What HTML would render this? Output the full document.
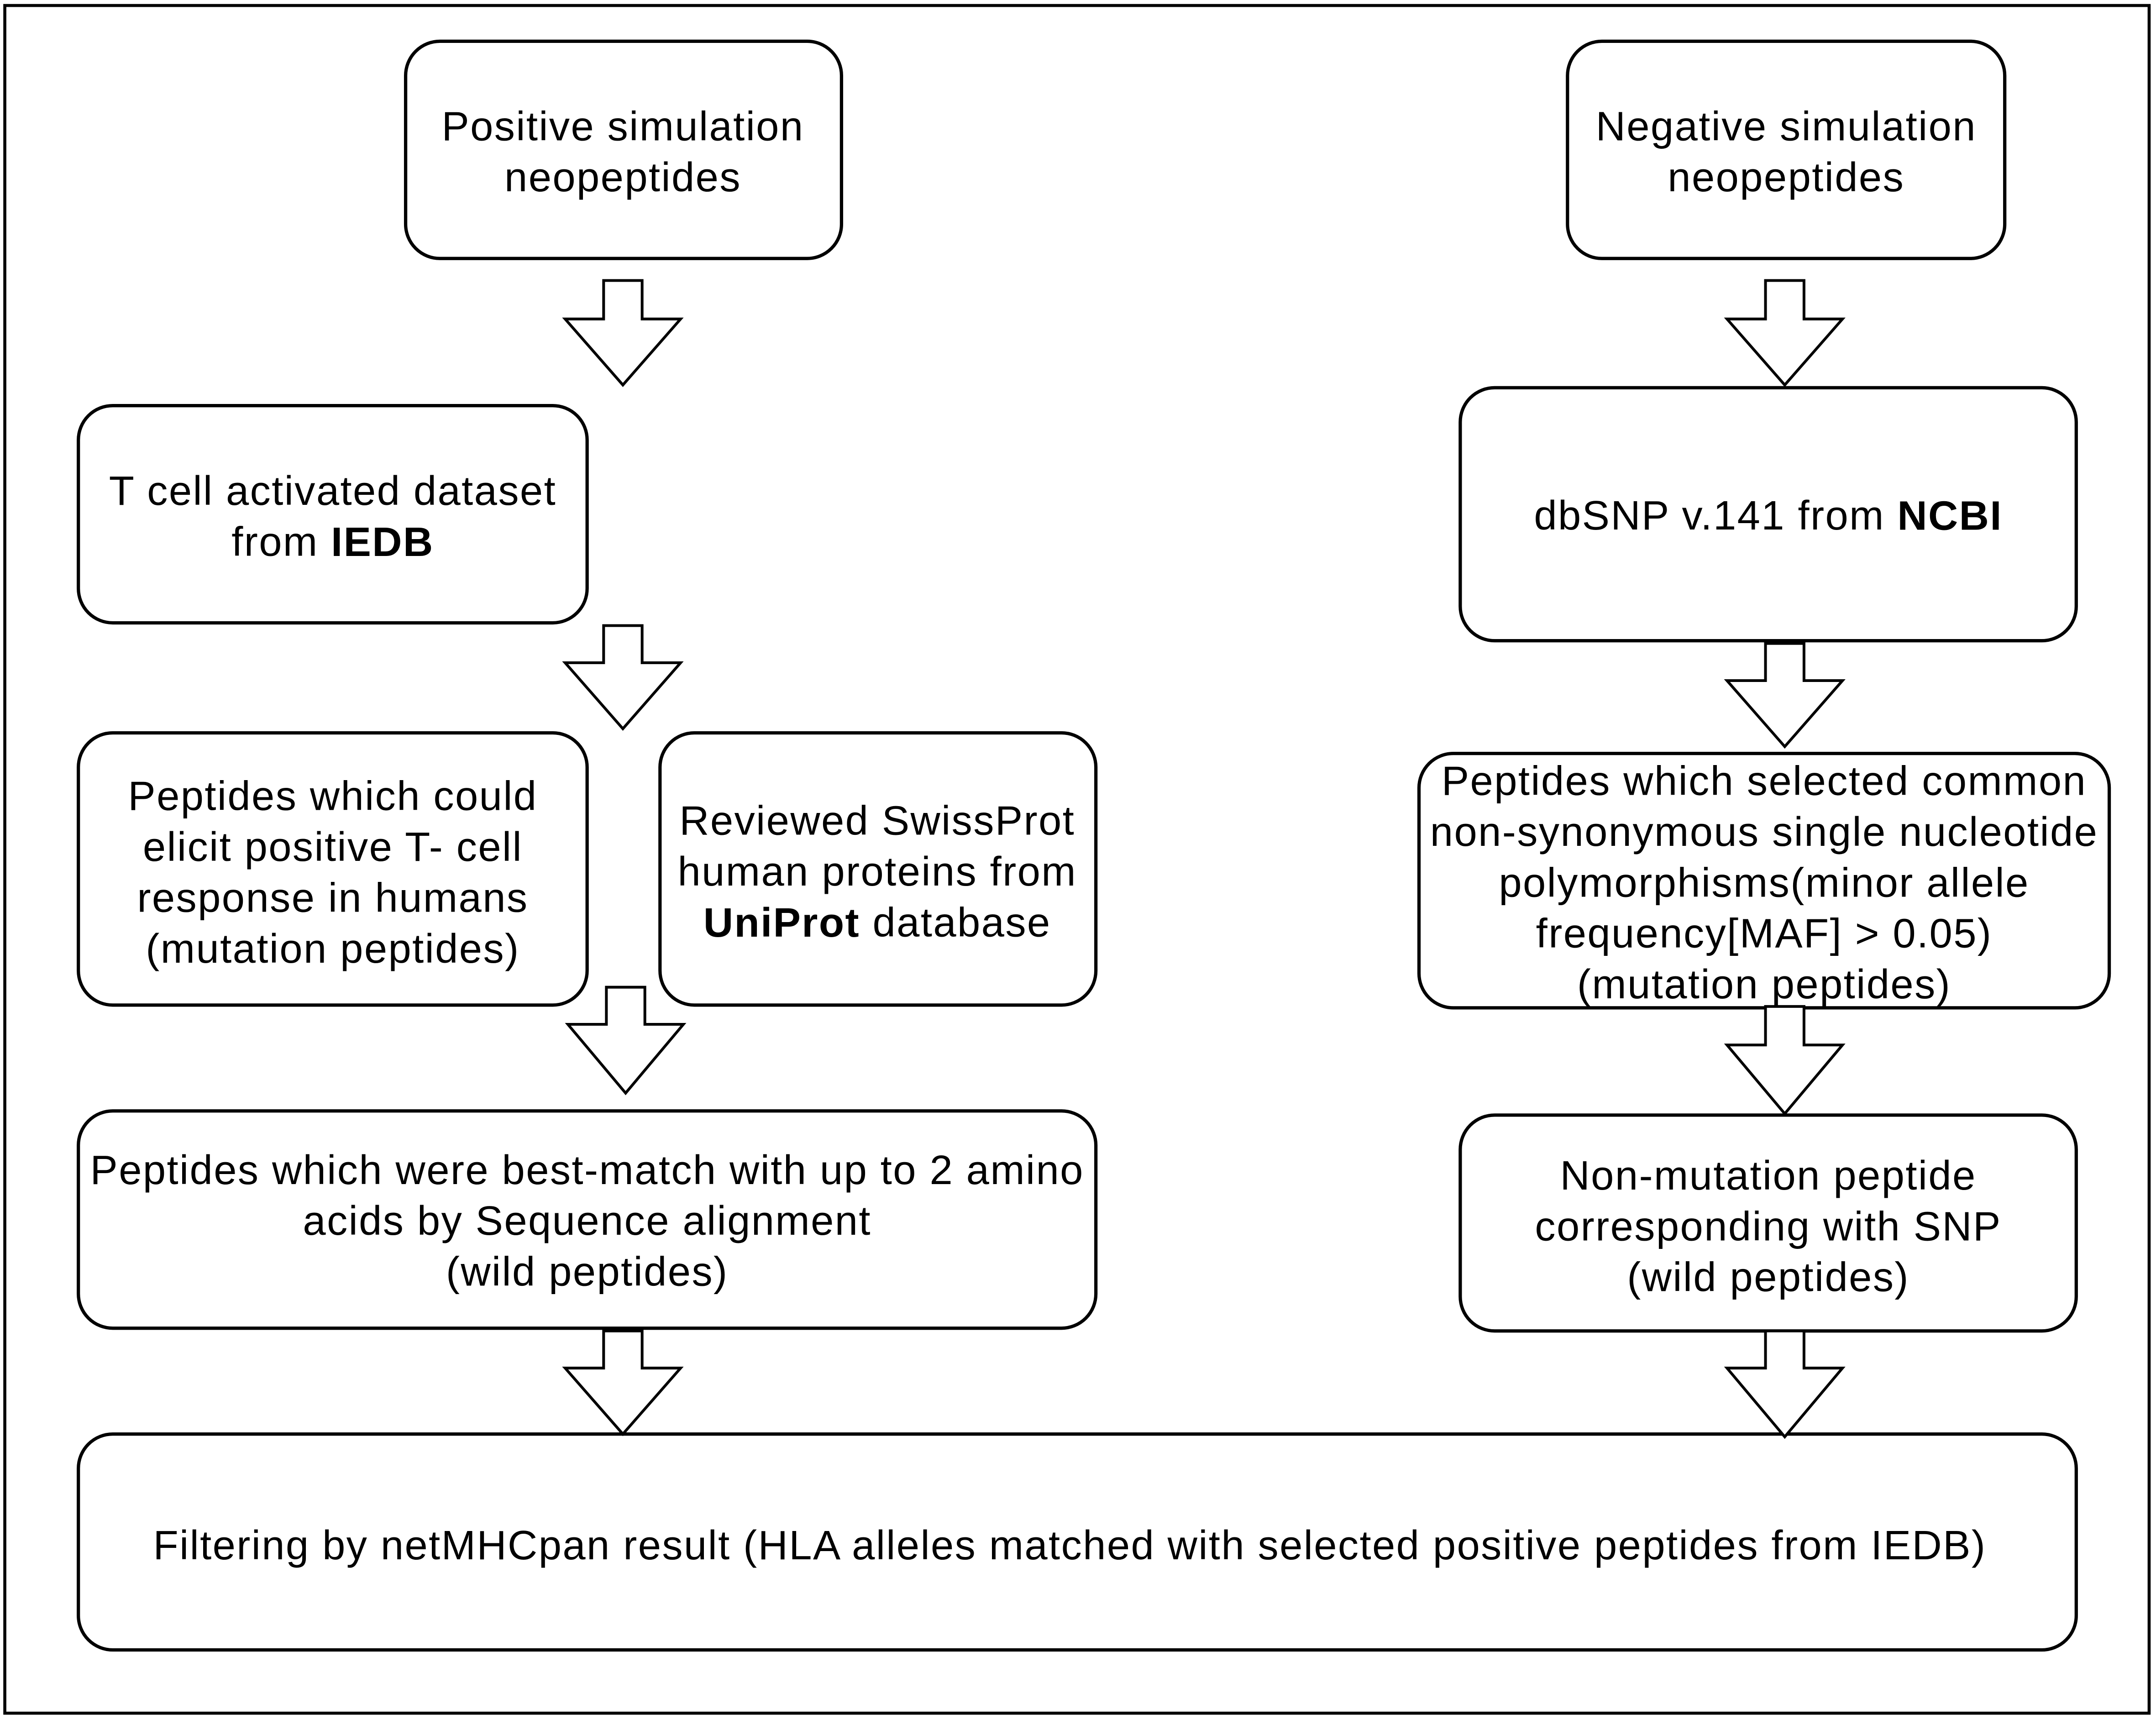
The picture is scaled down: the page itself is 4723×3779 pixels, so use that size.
<!DOCTYPE html>
<html><head><meta charset="utf-8"><style>
html,body{margin:0;padding:0;background:#fff;}
svg{display:block;}
text{font-family:"Liberation Sans",Arial,sans-serif;font-size:30px;letter-spacing:0.8px;fill:#000;text-anchor:middle;dominant-baseline:central;}
</style></head><body>
<svg width="4723" height="3779" viewBox="0 0 1568 1254.6" preserveAspectRatio="none" xmlns="http://www.w3.org/2000/svg">
<rect x="0" y="0" width="1568" height="1254.6" fill="#fff"/>
<rect x="3.5" y="4" width="1559.5" height="1242" fill="none" stroke="#000" stroke-width="2.2"/>
<g fill="#fff" stroke="#000" stroke-width="2.4">
<rect x="295" y="30" width="317" height="158" rx="25"/>
<rect x="1140" y="30" width="318" height="158" rx="25"/>
<rect x="57" y="295" width="370" height="158" rx="25"/>
<rect x="1062" y="282" width="448" height="184" rx="25"/>
<rect x="57" y="533" width="370" height="198" rx="25"/>
<rect x="480" y="533" width="317" height="198" rx="25"/>
<rect x="1032" y="548" width="502" height="185" rx="25"/>
<rect x="57" y="808" width="740" height="158" rx="25"/>
<rect x="1062" y="811" width="448" height="157" rx="25"/>
<rect x="57" y="1043" width="1453" height="157" rx="25"/>
</g>
<g fill="#fff" stroke="#000" stroke-width="2" stroke-linejoin="miter">
<path d="M439 204h28v28h28l-42 48l-42-48h28z"/>
<path d="M1284 204h28v28h28l-42 48l-42-48h28z"/>
<path d="M439 455h28v27h28l-42 48l-42-48h28z"/>
<path d="M1284 468h28v27h28l-42 48l-42-48h28z"/>
<path d="M441 718h28v27h28l-42 50l-42-50h28z"/>
<path d="M1284 732h28v28h28l-42 50l-42-50h28z"/>
<path d="M439 968h28v27h28l-42 48l-42-48h28z"/>
<path d="M1284 968h28v27h28l-42 50l-42-50h28z"/>
</g>
<text x="453" y="92">Positive simulation</text>
<text x="453" y="129">neopeptides</text>
<text x="1299" y="92">Negative simulation</text>
<text x="1299" y="129">neopeptides</text>
<text x="242" y="357">T cell activated dataset</text>
<text x="242" y="394">from <tspan font-weight="bold">IEDB</tspan></text>
<text x="1286" y="375">dbSNP v.141 from <tspan font-weight="bold">NCBI</tspan></text>
<text x="242" y="579">Peptides which could</text>
<text x="242" y="616">elicit positive T- cell</text>
<text x="242" y="653">response in humans</text>
<text x="242" y="690">(mutation peptides)</text>
<text x="638" y="597">Reviewed SwissProt</text>
<text x="638" y="634">human proteins from</text>
<text x="638" y="671"><tspan font-weight="bold">UniProt</tspan> database</text>
<text x="1283" y="568">Peptides which selected common</text>
<text x="1283" y="605">non-synonymous single nucleotide</text>
<text x="1283" y="642">polymorphisms(minor allele</text>
<text x="1283" y="679">frequency[MAF] &gt; 0.05)</text>
<text x="1283" y="716">(mutation peptides)</text>
<text x="427" y="851">Peptides which were best-match with up to 2 amino</text>
<text x="427" y="888">acids by Sequence alignment</text>
<text x="427" y="925">(wild peptides)</text>
<text x="1286" y="855">Non-mutation peptide</text>
<text x="1286" y="892">corresponding with SNP</text>
<text x="1286" y="929">(wild peptides)</text>
<text x="778" y="1124">Filtering by netMHCpan result (HLA alleles matched with selected positive peptides from IEDB)</text>
</svg>
</body></html>
